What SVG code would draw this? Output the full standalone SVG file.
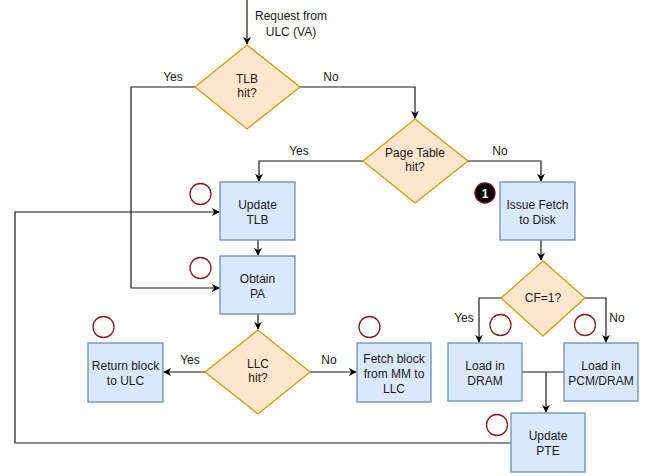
<svg xmlns="http://www.w3.org/2000/svg" width="649" height="476" viewBox="0 0 649 476">
<style>
.box{fill:#dae8fc;stroke:#6c8ebf;stroke-width:1.3}
.dia{fill:#ffe6cc;stroke:#d79b00;stroke-width:1.3}
.t{font-family:"Liberation Sans",Arial,sans-serif;font-size:12px;fill:#1a1a1a;text-anchor:middle}
.l{font-family:"Liberation Sans",Arial,sans-serif;font-size:12px;fill:#1a1a1a;text-anchor:middle}
.c{fill:none;stroke:#1a1a1a;stroke-width:1.2}
.mk{fill:none;stroke:#8b1a1a;stroke-width:1.3}
</style>
<defs>
<marker id="a" viewBox="0 0 10 10" refX="9" refY="5" markerWidth="8" markerHeight="8" markerUnits="userSpaceOnUse" orient="auto">
<path d="M0,0 L10,5 L0,10 L3,5 Z" fill="#000"/>
</marker>
</defs>
<g id="connectors">
<path class="c" d="M247,0 V44" marker-end="url(#a)"/>
<path class="c" d="M195,87 H131 V288 H219" marker-end="url(#a)"/>
<path class="c" d="M300,87 H415 V118" marker-end="url(#a)"/>
<path class="c" d="M363,161 H259 V181" marker-end="url(#a)"/>
<path class="c" d="M468,161 H541 V181" marker-end="url(#a)"/>
<path class="c" d="M258,240 V255" marker-end="url(#a)"/>
<path class="c" d="M258,314 V329" marker-end="url(#a)"/>
<path class="c" d="M205,372 H164" marker-end="url(#a)"/>
<path class="c" d="M310,372 H356" marker-end="url(#a)"/>
<path class="c" d="M541,240 V260" marker-end="url(#a)"/>
<path class="c" d="M501,298 H479 V342" marker-end="url(#a)"/>
<path class="c" d="M585,298 H606 V342" marker-end="url(#a)"/>
<path class="c" d="M522,372 H564"/>
<path class="c" d="M546,372 V412" marker-end="url(#a)"/>
<path class="c" d="M511,443 H15 V212 H219" marker-end="url(#a)"/>
<text class="l" x="291" y="20">Request from</text>
<text class="l" x="291" y="36">ULC (VA)</text>
<text class="l" x="173" y="81">Yes</text>
<text class="l" x="331" y="81">No</text>
<text class="l" x="299" y="155">Yes</text>
<text class="l" x="500" y="155">No</text>
<text class="l" x="190" y="364">Yes</text>
<text class="l" x="329" y="364">No</text>
<text class="l" x="464" y="322">Yes</text>
<text class="l" x="617" y="322">No</text>
</g>
<g id="tlb"><path class="dia" d="M247,45 L300,87 L247,129 L195,87 Z"/><text class="t" x="247" y="83">TLB</text><text class="t" x="247" y="97">hit?</text></g>
<g id="pagetable"><path class="dia" d="M415,119 L468,161 L415,203 L363,161 Z"/><text class="t" x="415" y="157">Page Table</text><text class="t" x="415" y="171">hit?</text></g>
<g id="updatetlb"><rect class="box" x="220" y="182" width="75" height="58"/><text class="t" x="257.5" y="209">Update</text><text class="t" x="257.5" y="224">TLB</text></g>
<g id="obtainpa"><rect class="box" x="220" y="256" width="75" height="58"/><text class="t" x="257.5" y="283">Obtain</text><text class="t" x="257.5" y="298">PA</text></g>
<g id="issuefetch"><rect class="box" x="500" y="182" width="75" height="58"/><text class="t" x="537.5" y="209">Issue Fetch</text><text class="t" x="537.5" y="224">to Disk</text></g>
<g id="llc"><path class="dia" d="M258,330 L310,372 L258,414 L205,372 Z"/><text class="t" x="258" y="368">LLC</text><text class="t" x="258" y="382">hit?</text></g>
<g id="returnblock"><rect class="box" x="88" y="343" width="75" height="59"/><text class="t" x="125.5" y="370">Return block</text><text class="t" x="125.5" y="385">to ULC</text></g>
<g id="fetchblock"><rect class="box" x="357" y="343" width="74" height="59"/><text class="t" x="394" y="363">Fetch block</text><text class="t" x="394" y="378">from MM to</text><text class="t" x="394" y="393">LLC</text></g>
<g id="cf"><path class="dia" d="M543,261 L585,298 L543,336 L501,298 Z"/><text class="t" x="543" y="302">CF=1?</text></g>
<g id="loaddram"><rect class="box" x="448" y="343" width="74" height="58"/><text class="t" x="485" y="370">Load in</text><text class="t" x="485" y="385">DRAM</text></g>
<g id="loadpcm"><rect class="box" x="564" y="343" width="74" height="58"/><text class="t" x="601" y="370">Load in</text><text class="t" x="601" y="385">PCM/DRAM</text></g>
<g id="updatepte"><rect class="box" x="511" y="413" width="74" height="59"/><text class="t" x="548" y="440">Update</text><text class="t" x="548" y="455">PTE</text></g>
<g id="markers">
<circle class="mk" cx="200.5" cy="194" r="10.5"/>
<circle class="mk" cx="200.5" cy="268" r="10.5"/>
<circle class="mk" cx="103.5" cy="327" r="10.5"/>
<circle class="mk" cx="369.5" cy="327" r="10.5"/>
<circle class="mk" cx="500.5" cy="325" r="10.5"/>
<circle class="mk" cx="585" cy="325" r="10.5"/>
<circle class="mk" cx="497" cy="425" r="10.5"/>
</g>
<g id="badge"><circle cx="485" cy="193" r="10" fill="#000" stroke="#6b1010" stroke-width="1.3"/><text x="485" y="197.5" font-family="Liberation Sans,Arial,sans-serif" font-size="12" font-weight="bold" fill="#fff" text-anchor="middle">1</text></g>
</svg>
